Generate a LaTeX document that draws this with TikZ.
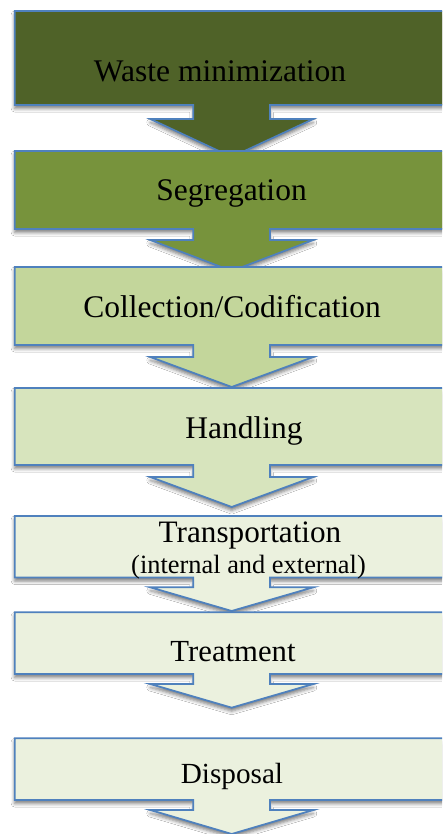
\documentclass[tikz,border=0pt]{standalone}
\usepackage{fontspec}
\setmainfont{Liberation Serif}
\usetikzlibrary{shadows.blur}
\definecolor{cA}{HTML}{4F6228}
\definecolor{cB}{HTML}{77933C}
\definecolor{cC}{HTML}{C3D69B}
\definecolor{cD}{HTML}{D7E4BD}
\definecolor{cE}{HTML}{EBF1DE}
\definecolor{bordc}{HTML}{4F81BD}
\tikzset{
  callout/.style={draw=bordc, line width=1.8pt, line join=miter,
    blur shadow={shadow xshift=0pt, shadow yshift=-3.5pt, shadow blur radius=3.5pt, shadow opacity=50}},
  lbl/.style={anchor=base, inner sep=0pt, text=black},
  big/.style={font=\fontsize{31.5}{36}\selectfont},
}
% #1 top, #2 rect bottom, #3 stem bottom, #4 tip, #5 fill
\newcommand\arrbox[5]{%
  \path[callout, fill=#5] (14.7,#1) -- (448.7,#1) -- (448.7,#2) -- (270,#2) -- (270,#3)
    -- (313.3,#3) -- (231.7,#4) -- (150.3,#3) -- (193.3,#3) -- (193.3,#2) -- (14.7,#2) -- cycle;}
\begin{document}
\begin{tikzpicture}[x=1pt,y=-1pt]
\useasboundingbox (0,0) rectangle (442,834);
\clip (0,0) rectangle (442,834);
\fill[white] (0,0) rectangle (442,834);
\arrbox{11}{105}{119}{157}{cA}
\node[lbl,big] (t1) at (220,82) {Waste minimization};
\arrbox{151}{229}{240}{271}{cB}
\node[lbl,big] (t2) at (231.5,200.3) {Segregation};
\arrbox{267}{345}{357}{387}{cC}
\node[lbl,big] (t3) at (232,317) {Collection/Codification};
\arrbox{388}{465}{477}{507}{cD}
\node[lbl,big] (t4) at (244,438) {Handling};
\arrbox{516}{577.5}{587.3}{611}{cE}
\node[lbl,font=\fontsize{31.2}{36}\selectfont] (t5) at (250,542.8) {Transportation};
\node[lbl,font=\fontsize{26.4}{30}\selectfont] (t5b) at (248.5,573.5) {(internal and external)};
\arrbox{612.3}{674}{684}{707.7}{cE}
\node[lbl,font=\fontsize{30.7}{36}\selectfont] (t6) at (233,661.3) {Treatment};
\arrbox{738.3}{800}{810}{834}{cE}
\node[lbl,font=\fontsize{29.2}{34}\selectfont] (t7) at (232,783) {Disposal};
\end{tikzpicture}
\end{document}
